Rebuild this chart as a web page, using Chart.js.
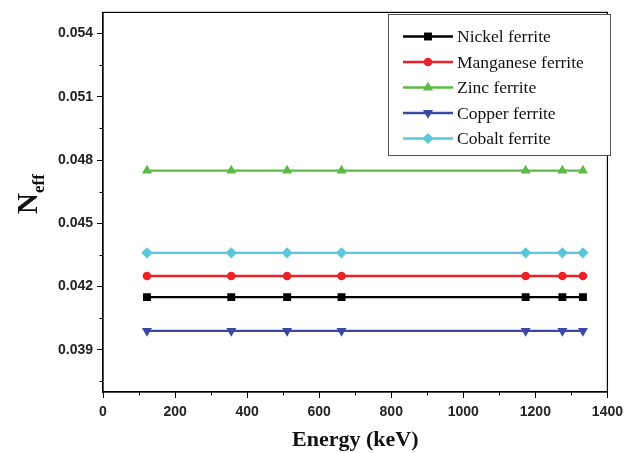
<!DOCTYPE html>
<html>
<head>
<meta charset="utf-8">
<script src="https://cdn.jsdelivr.net/npm/chart.js@4/dist/chart.umd.min.js"></script>
<style>
  html, body { margin: 0; padding: 0; background: #fff; }
  #wrap { width: 629px; height: 453px; }
</style>
</head>
<body>
<div id="wrap"><canvas id="myChart" width="629" height="453"></canvas></div>
<script>
// energies (keV)
var energy = [122, 356, 511, 662, 1173, 1275, 1332];

var nickel    = [0.0415, 0.0415, 0.0415, 0.0415, 0.0415, 0.0415, 0.0415];
var manganese = [0.0425, 0.0425, 0.0425, 0.0425, 0.0425, 0.0425, 0.0425];
var zinc      = [0.0475, 0.0475, 0.0475, 0.0475, 0.0475, 0.0475, 0.0475];
var copper    = [0.0399, 0.0399, 0.0399, 0.0399, 0.0399, 0.0399, 0.0399];
var cobalt    = [0.0436, 0.0436, 0.0436, 0.0436, 0.0436, 0.0436, 0.0436];

var names = ["Nickel ferrite", "Manganese ferrite", "Zinc ferrite", "Copper ferrite", "Cobalt ferrite"];

var xTicks = [0, 200, 400, 600, 800, 1000, 1200, 1400];
var xMinor = [100, 300, 500, 700, 900, 1100, 1300];
var yTicks = [0.039, 0.042, 0.045, 0.048, 0.051, 0.054];
var yMinor = [0.0375, 0.0405, 0.0435, 0.0465, 0.0495, 0.0525];

function pts(arr) {
	var out = [];
	for (var i = 0; i < energy.length; i++) {
		out.push({ x: energy[i], y: arr[i] });
	}
	return out;
}

var styles = [
	{ color: "#000000", point: "rect", radius: 5.6, rotation: 0 },
	{ color: "#ec2227", point: "circle", radius: 4.3, rotation: 0 },
	{ color: "#5cbb46", point: "triangle", radius: 5.8, rotation: 0 },
	{ color: "#3a47a3", point: "triangle", radius: 5.8, rotation: 180 },
	{ color: "#5ac8d8", point: "rectRot", radius: 5.6, rotation: 0 }
];
var series = [nickel, manganese, zinc, copper, cobalt];

var datasets = [];
for (var s = 0; s < series.length; s++) {
	datasets.push({
		label: names[s],
		data: pts(series[s]),
		borderColor: styles[s].color,
		backgroundColor: styles[s].color,
		borderWidth: 2.3,
		pointStyle: styles[s].point,
		pointRadius: styles[s].radius,
		pointRotation: styles[s].rotation,
		pointBorderWidth: 0,
		fill: false,
		tension: 0
	});
}

var tickFont = { family: "'Liberation Sans', Arial, sans-serif", size: 14, weight: "bold" };

var extras = {
	id: "extras",
	afterDraw: function(chart) {
		var ctx = chart.ctx;
		var a = chart.chartArea;
		var xs = chart.scales.x, ys = chart.scales.y;
		ctx.save();
		// frame
		ctx.strokeStyle = "#000";
		ctx.lineWidth = 1.2;
		ctx.strokeRect(a.left, a.top, a.right - a.left, a.bottom - a.top);
		// minor ticks
		ctx.beginPath();
		xMinor.forEach(function(v) {
			var px = Math.round(xs.getPixelForValue(v)) + 0.5;
			ctx.moveTo(px, a.bottom);
			ctx.lineTo(px, a.bottom + 3.5);
		});
		yMinor.forEach(function(v) {
			var py = Math.round(ys.getPixelForValue(v)) + 0.5;
			ctx.moveTo(a.left, py);
			ctx.lineTo(a.left - 3.5, py);
		});
		ctx.lineWidth = 1;
		ctx.stroke();

		// axis titles
		ctx.fillStyle = "#111";
		ctx.font = "bold 22px 'Liberation Serif', 'Times New Roman', serif";
		ctx.textAlign = "center";
		ctx.textBaseline = "alphabetic";
		ctx.fillText("Energy (keV)", (a.left + a.right) / 2, 446);

		ctx.save();
		ctx.translate(37, 214);
		ctx.rotate(-Math.PI / 2);
		ctx.textAlign = "left";
		ctx.font = "bold 29px 'Liberation Serif', 'Times New Roman', serif";
		ctx.fillText("N", 0, 0);
		var nw = ctx.measureText("N").width;
		ctx.font = "bold 17px 'Liberation Serif', 'Times New Roman', serif";
		ctx.fillText("eff", nw, 7);
		ctx.restore();

		// legend box
		var lx = 388, ly = 14, lw = 222, lh = 141;
		ctx.fillStyle = "#fff";
		ctx.fillRect(lx, ly, lw, lh);
		ctx.strokeStyle = "#555";
		ctx.lineWidth = 1;
		ctx.strokeRect(lx + 0.5, ly + 0.5, lw, lh);
		ctx.font = "17.5px 'Liberation Serif', 'Times New Roman', serif";
		ctx.textAlign = "left";
		ctx.textBaseline = "middle";
		for (var i = 0; i < names.length; i++) {
			var y = 36.5 + i * 25.5;
			ctx.strokeStyle = styles[i].color;
			ctx.lineWidth = 2.5;
			ctx.beginPath();
			ctx.moveTo(403, y);
			ctx.lineTo(453, y);
			ctx.stroke();
			ctx.fillStyle = styles[i].color;
			Chart.helpers.drawPoint(ctx, {
				pointStyle: styles[i].point,
				radius: styles[i].radius,
				rotation: styles[i].rotation,
				borderWidth: 0
			}, 428, y);
			ctx.fillStyle = "#111";
			ctx.fillText(names[i], 457, y + 1);
		}
		ctx.restore();
	}
};

var ctx = document.getElementById("myChart");
var myChart = new Chart(ctx, {
	type: "line",
	data: { datasets: datasets },
	options: {
		responsive: false,
		animation: false,
		layout: { padding: { top: 12, right: 16, left: 0, bottom: 0 } },
		plugins: {
			legend: { display: false },
			tooltip: { enabled: false }
		},
		scales: {
			x: {
				type: "linear",
				min: 0,
				max: 1400,
				afterBuildTicks: function(scale) {
					scale.ticks = xTicks.map(function(v) { return { value: v }; });
				},
				afterFit: function(scale) { scale.height = 61; },
				grid: { drawOnChartArea: false, drawTicks: true, tickLength: 6, tickColor: "#000", tickWidth: 1 },
				border: { display: true, color: "#000", width: 1.2 },
				ticks: {
					color: "#222",
					font: tickFont,
					padding: 6,
					maxRotation: 0,
					callback: function(v) { return v; }
				}
			},
			y: {
				type: "linear",
				min: 0.037,
				max: 0.055,
				afterBuildTicks: function(scale) {
					scale.ticks = yTicks.map(function(v) { return { value: v }; });
				},
				afterFit: function(scale) { scale.width = 103; },
				grid: { drawOnChartArea: false, drawTicks: true, tickLength: 6, tickColor: "#000", tickWidth: 1 },
				border: { display: true, color: "#000", width: 1.2 },
				ticks: {
					color: "#222",
					font: tickFont,
					padding: 4,
					callback: function(v) { return v.toFixed(3); }
				}
			}
		}
	},
	plugins: [extras]
});
</script>
</body>
</html>
